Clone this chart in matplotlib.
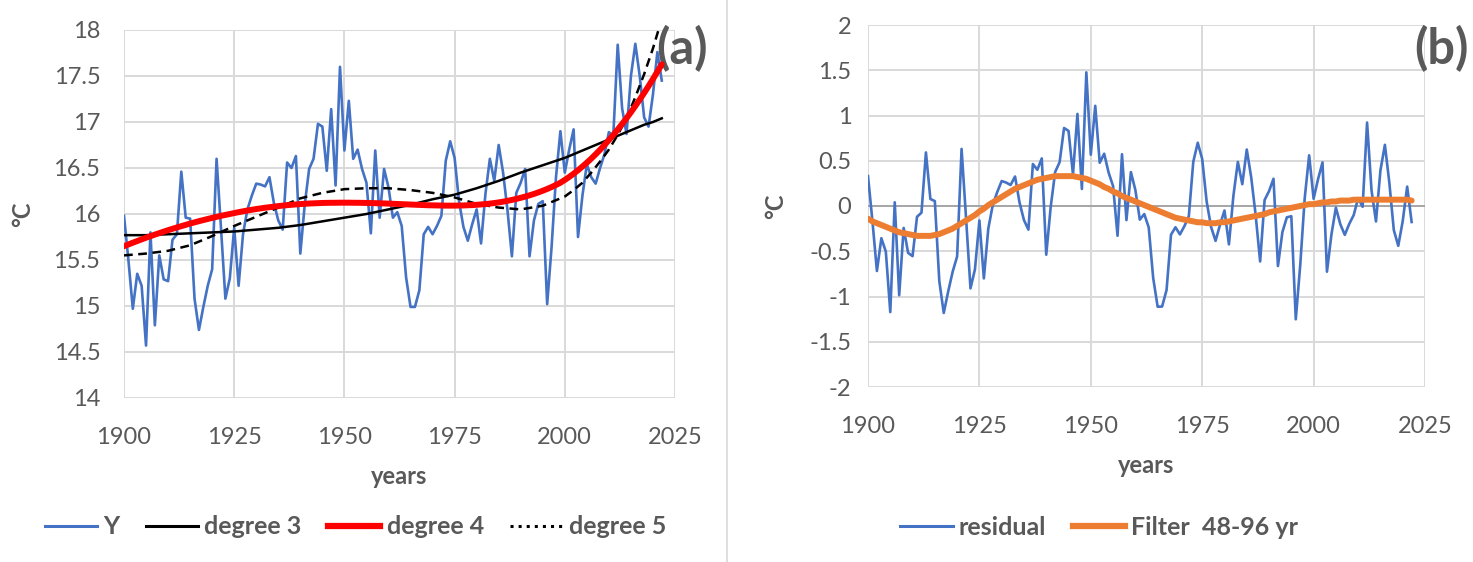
import numpy as np
import matplotlib
matplotlib.use("Agg")
import matplotlib.pyplot as plt
from matplotlib.lines import Line2D

years = np.arange(1900, 2023)

# annual mean temperature (degC)
temp_y = [
    15.98, 15.50, 14.97, 15.35, 15.22, 14.57, 15.80, 14.79, 15.55, 15.29,
    15.27, 15.72, 15.78, 16.46, 15.96, 15.95, 15.08, 14.74, 14.99, 15.22,
    15.40, 16.60, 15.85, 15.08, 15.30, 15.85, 15.22, 15.78, 16.05, 16.20,
    16.33, 16.32, 16.30, 16.40, 16.12, 15.93, 15.83, 16.56, 16.50, 16.63,
    15.57, 16.10, 16.49, 16.60, 16.98, 16.95, 16.47, 17.14, 16.31, 17.60,
    16.69, 17.23, 16.60, 16.70, 16.49, 16.34, 15.79, 16.69, 15.96, 16.49,
    16.29, 15.96, 16.02, 15.87, 15.31, 14.99, 14.99, 15.17, 15.78, 15.86,
    15.78, 15.87, 15.98, 16.58, 16.79, 16.61, 16.14, 15.86, 15.71, 15.89,
    16.05, 15.68, 16.22, 16.60, 16.36, 16.75, 16.45, 16.04, 15.54, 16.23,
    16.34, 16.49, 15.54, 15.93, 16.11, 16.14, 15.02, 15.64, 16.40, 16.90,
    16.45, 16.70, 16.92, 15.75, 16.20, 16.54, 16.40, 16.33, 16.50, 16.65,
    16.89, 16.85, 17.84, 17.15, 16.87, 17.50, 17.85, 17.50, 17.05, 16.95,
    17.30, 17.76, 17.45,
]

# degree-4 trendline as drawn (red), read per year
trend_deg4 = [
    15.650, 15.669, 15.688, 15.706, 15.724, 15.742, 15.759, 15.776, 15.792, 15.808,
    15.824, 15.839, 15.854, 15.868, 15.882, 15.896, 15.909, 15.922, 15.934, 15.946,
    15.958, 15.969, 15.980, 15.990, 16.000, 16.010, 16.020, 16.029, 16.038, 16.046,
    16.054, 16.061, 16.068, 16.074, 16.080, 16.086, 16.091, 16.096, 16.100, 16.104,
    16.108, 16.111, 16.114, 16.116, 16.118, 16.120, 16.121, 16.122, 16.122, 16.123,
    16.123, 16.123, 16.122, 16.122, 16.121, 16.120, 16.119, 16.118, 16.116, 16.115,
    16.113, 16.111, 16.109, 16.107, 16.105, 16.103, 16.101, 16.099, 16.097, 16.095,
    16.094, 16.093, 16.092, 16.091, 16.091, 16.091, 16.092, 16.093, 16.095, 16.097,
    16.100, 16.104, 16.108, 16.113, 16.119, 16.126, 16.134, 16.143, 16.153, 16.164,
    16.176, 16.189, 16.203, 16.218, 16.235, 16.253, 16.272, 16.293, 16.316, 16.340,
    16.370, 16.403, 16.438, 16.476, 16.516, 16.558, 16.602, 16.649, 16.698, 16.750,
    16.803, 16.859, 16.918, 16.978, 17.041, 17.106, 17.174, 17.244, 17.316, 17.390,
    17.467, 17.546, 17.627,
]

# degree-3 (solid black) and degree-5 (dashed black) trendlines
fit_years = [1900, 1905, 1910, 1915, 1920, 1925, 1930, 1935, 1940, 1945,
             1950, 1955, 1960, 1965, 1970, 1975, 1980, 1985, 1990, 1995,
             2000, 2002, 2004, 2006, 2008, 2010, 2012, 2014, 2016, 2018,
             2020, 2022]
trend_deg3 = [15.77, 15.77, 15.78, 15.79, 15.80, 15.81, 15.83, 15.85, 15.88, 15.92,
              15.96, 16.00, 16.05, 16.10, 16.16, 16.21, 16.28, 16.36, 16.45, 16.53,
              16.61, 16.65, 16.69, 16.73, 16.77, 16.81, 16.85, 16.89, 16.93, 16.97,
              17.00, 17.04]
trend_deg5 = [15.55, 15.57, 15.60, 15.66, 15.76, 15.87, 15.97, 16.07, 16.17, 16.23,
              16.27, 16.28, 16.28, 16.26, 16.23, 16.18, 16.11, 16.07, 16.05, 16.09,
              16.19, 16.26, 16.34, 16.45, 16.57, 16.70, 16.86, 17.04, 17.27, 17.52,
              17.80, 18.12]

# band-pass filtered residual
filter_48_96 = [
    -0.14, -0.17, -0.19, -0.21, -0.23, -0.25, -0.27, -0.29, -0.30, -0.31,
    -0.32, -0.33, -0.33, -0.33, -0.33, -0.32, -0.31, -0.29, -0.27, -0.25,
    -0.22, -0.19, -0.16, -0.13, -0.10, -0.06, -0.03, 0.01, 0.04, 0.07,
    0.10, 0.13, 0.16, 0.19, 0.21, 0.23, 0.25, 0.27, 0.29, 0.30,
    0.31, 0.32, 0.33, 0.33, 0.33, 0.33, 0.33, 0.32, 0.31, 0.30,
    0.28, 0.26, 0.24, 0.21, 0.19, 0.16, 0.14, 0.11, 0.09, 0.07,
    0.05, 0.03, 0.01, -0.01, -0.03, -0.05, -0.07, -0.09, -0.11, -0.13,
    -0.14, -0.15, -0.16, -0.17, -0.18, -0.18, -0.19, -0.19, -0.19, -0.18,
    -0.18, -0.17, -0.16, -0.15, -0.14, -0.13, -0.12, -0.11, -0.10, -0.09,
    -0.07, -0.06, -0.05, -0.04, -0.03, -0.02, -0.01, 0.00, 0.01, 0.02,
    0.02, 0.03, 0.04, 0.04, 0.05, 0.05, 0.06, 0.06, 0.06, 0.07,
    0.07, 0.07, 0.07, 0.07, 0.07, 0.07, 0.07, 0.07, 0.07, 0.07,
    0.07, 0.07, 0.06,
]

x_ticks = [1900, 1925, 1950, 1975, 2000, 2025]
ya_ticks = [14, 14.5, 15, 15.5, 16, 16.5, 17, 17.5, 18]
yb_ticks = [-2, -1.5, -1, -0.5, 0, 0.5, 1, 1.5, 2]

GRAY = "#595959"
GRID = "#d9d9d9"
BLUE = "#4472c4"
ORANGE = "#ed7d31"

plt.rcParams["font.family"] = ["Lato", "DejaVu Sans"]


def style_axes(ax, yticks, ypad):
    ax.set_xlim(1900, 2025)
    ax.set_ylim(yticks[0], yticks[-1])
    ax.set_xticks(x_ticks)
    ax.set_yticks(yticks)
    ax.set_yticklabels([f"{v:g}" for v in yticks])
    ax.grid(True, color=GRID, linewidth=1.4)
    ax.set_axisbelow(True)
    for s in ax.spines.values():
        s.set_visible(False)
    ax.tick_params(axis="x", length=0, pad=21, labelsize=17, labelcolor=GRAY)
    ax.tick_params(axis="y", length=0, pad=ypad, labelsize=17, labelcolor=GRAY)


fig = plt.figure(figsize=(14.73, 5.62), dpi=100)

# panel (a)
ax1 = fig.add_axes([124 / 1473, 164 / 562, 551 / 1473, 368 / 562])
ax1.plot(years, temp_y, color=BLUE, lw=1.9, zorder=2)
ax1.plot(fit_years, trend_deg3, color="black", lw=1.8, zorder=3)
ax1.plot(years, trend_deg4, color="red", lw=4.3, solid_capstyle="round", zorder=4)
ax1.plot(fit_years, trend_deg5, color="black", lw=1.8, dashes=(3.5, 2.2), zorder=3)
style_axes(ax1, ya_ticks, 17)
ax1.set_xlabel("years", fontsize=17, fontweight="bold", color=GRAY, labelpad=12)
ax1.set_ylabel("°C", fontsize=17, fontweight="bold", color=GRAY, labelpad=14)
ax1.text(1.013, 0.95, "(a)", transform=ax1.transAxes, ha="center", va="center",
         fontsize=35, fontweight="bold", color=GRAY)
ax1.legend(
    handles=[
        Line2D([], [], color=BLUE, lw=2.2),
        Line2D([], [], color="black", lw=2.2),
        Line2D([], [], color="red", lw=4.5),
        Line2D([], [], color="black", lw=2.2, ls=":"),
    ],
    labels=["Y", "degree 3", "degree 4", "degree 5"],
    loc="center", bbox_to_anchor=(0.42, -0.35), ncol=4, frameon=False,
    prop={"size": 18, "weight": "bold"}, labelcolor=GRAY,
    handlelength=2.1, handletextpad=0.25, columnspacing=1.05,
)

# panel (b)
residual = np.array(temp_y) - np.array(trend_deg4)
ax2 = fig.add_axes([868 / 1473, 175 / 562, 557 / 1473, 362 / 562])
ax2.axhline(0, color="#a6a6a6", lw=1.4, zorder=1)
ax2.plot(years, residual, color=BLUE, lw=1.9, zorder=2)
ax2.plot(years, filter_48_96, color=ORANGE, lw=4.3, solid_capstyle="round", zorder=3)
style_axes(ax2, yb_ticks, 12)
ax2.set_xlabel("years", fontsize=17, fontweight="bold", color=GRAY, labelpad=12)
ax2.set_ylabel("°C", fontsize=17, fontweight="bold", color=GRAY, labelpad=16)
ax2.text(1.03, 0.935, "(b)", transform=ax2.transAxes, ha="center", va="center",
         fontsize=35, fontweight="bold", color=GRAY)
ax2.legend(
    handles=[
        Line2D([], [], color=BLUE, lw=2.2),
        Line2D([], [], color=ORANGE, lw=4.5),
    ],
    labels=["residual", "Filter  48-96 yr"],
    loc="center", bbox_to_anchor=(0.415, -0.387), ncol=2, frameon=False,
    prop={"size": 18, "weight": "bold"}, labelcolor=GRAY,
    handlelength=2.1, handletextpad=0.25, columnspacing=1.05,
)

# divider between the two charts
fig.add_artist(Line2D([727 / 1473, 727 / 1473], [0, 1], color="#d9d9d9", lw=1.2))

fig.savefig("out.png", dpi=100)
